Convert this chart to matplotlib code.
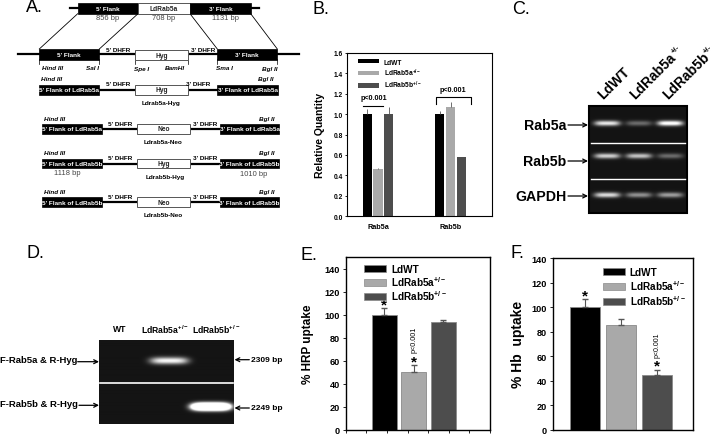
import matplotlib
matplotlib.use("Agg")
import matplotlib.pyplot as plt
from matplotlib.patches import Rectangle, Patch
import numpy as np

plt.rcParams["font.family"] = ["Liberation Sans", "DejaVu Sans"]
plt.rcParams["mathtext.default"] = "regular"

W, H = 713, 435

# panel B
qty_groups = ["Rab5a", "Rab5b"]
qty_wt = [1.0, 1.0]
qty_5a = [0.46, 1.07]
qty_5b = [1.005, 0.575]
qty_wt_err = [0.05, 0.035]
qty_5a_err = [0.01, 0.05]
qty_5b_err = [0.065, 0.005]
qty_ticks = [0.0, 0.2, 0.4, 0.6, 0.8, 1.0, 1.2, 1.4, 1.6]

# panel E and F
strains_hrp = ["LdWT", "LdRab5a$^{+/-}$", "LdRab5b$^{+/-}$"]
strains_hb = ["LdWT", "LdRab5a$^{+/-}$", "LdRab5b$^{+/-}$"]
hrp_vals = [100, 50.5, 94]
hrp_err = [6, 5.5, 1]
hb_vals = [100, 85.5, 44.5]
hb_err = [6.5, 4.5, 4.5]
uptake_ticks = [0, 20, 40, 60, 80, 100, 120, 140]

# gel band brightness, one row per primer set
gel_c_rows = ["Rab5a", "Rab5b", "GAPDH"]
gel_c_levels = [[0.85, 0.35, 1.0], [0.75, 0.7, 0.35], [0.8, 0.5, 0.55]]
gel_d_rows = ["F-Rab5a & R-Hyg", "F-Rab5b & R-Hyg"]
gel_d_sizes = ["2309 bp", "2249 bp"]
gel_d_levels = [[0.0, 0.9, 0.0], [0.0, 0.0, 3.0]]

colors = ["#000000", "#a9a9a9", "#4d4d4d"]


def px_axes(fig, left, top, right, bottom):
    return fig.add_axes([left / W, 1 - bottom / H, (right - left) / W, (bottom - top) / H])


def gel_image(left, top, right, bottom, row_y, lane_x, levels, half_w, half_h):
    xs, ys = np.meshgrid(np.arange(left, right, 0.5), np.arange(top, bottom, 0.5))
    img = np.full(xs.shape, 0.08)
    for r in range(len(row_y)):
        for c in range(len(lane_x)):
            img += (levels[r][c] * np.exp(-((xs - lane_x[c]) / half_w) ** 4)
                    * np.exp(-((ys - row_y[r]) / half_h) ** 2))
    return np.clip(img, 0, 1)


def arrow(ax, x0, x1, y):
    ax.annotate("", xy=(x1, y), xytext=(x0, y),
                arrowprops=dict(arrowstyle="->", color="k", lw=0.9,
                                mutation_scale=7, shrinkA=0, shrinkB=0))


fig = plt.figure(figsize=(W / 100, H / 100), dpi=100)

# ---- B
axb = px_axes(fig, 347, 54, 492, 217)
pos = np.arange(2)
axb.bar(pos - 0.149, qty_wt, 0.125, yerr=[[0, 0], qty_wt_err], color=colors[0],
        ecolor="#555555", error_kw=dict(lw=0.6), label="LdWT")
axb.bar(pos, qty_5a, 0.125, yerr=[[0, 0], qty_5a_err], color=colors[1],
        ecolor="#555555", error_kw=dict(lw=0.6), label="LdRab5a$^{+/-}$")
axb.bar(pos + 0.149, qty_5b, 0.125, yerr=[[0, 0], qty_5b_err], color=colors[2],
        ecolor="#555555", error_kw=dict(lw=0.6), label="LdRab5b$^{+/-}$")
axb.set_xlim(-0.428, 1.572)
axb.set_ylim(0, 1.6)
axb.set_yticks(qty_ticks)
axb.set_yticklabels(["%.1f" % t for t in qty_ticks], fontsize=4.8, fontweight="bold")
axb.set_xticks(pos)
axb.set_xticklabels(qty_groups, fontsize=5.2, fontweight="bold")
axb.tick_params(length=1.5, width=0.6, pad=1.5)
axb.tick_params(axis="x", length=0, pad=5)
axb.set_ylabel("Relative Quantity", fontsize=7.5, fontweight="bold")
axb.yaxis.set_label_coords(-0.152, 0.5)
for s in axb.spines.values():
    s.set_linewidth(0.8)
axb.legend(loc="upper left", bbox_to_anchor=(0.075, 0.965), frameon=False, borderaxespad=0,
           borderpad=0, prop=dict(size=4.8, weight="bold"), handlelength=3.2, handleheight=0.6,
           handletextpad=0.7, labelspacing=0.15)

# ---- E
axe = px_axes(fig, 345.7, 258, 490, 431)
pos = np.arange(3)
axe.bar(pos, hrp_vals, 0.85, yerr=[[0, 0, 0], hrp_err], color=colors,
        edgecolor="#8a8a8a", lw=0.6, ecolor="#555555", error_kw=dict(lw=0.8, capsize=2))
axe.set_xlim(-1.3, 3.59)
axe.set_ylim(0, 150)
axe.set_yticks(uptake_ticks)
axe.set_yticklabels(uptake_ticks, fontsize=6.6, fontweight="bold")
axe.set_xticks(np.linspace(-1.3, 3.59, 8))
axe.set_xticklabels([])
axe.tick_params(length=2, width=0.6, pad=2)
axe.set_ylabel("% HRP uptake", fontsize=8.5, fontweight="bold")
axe.yaxis.set_label_coords(-0.22, 0.5)
axe.text(0, hrp_vals[0] + hrp_err[0] + 3, "*", fontsize=11, fontweight="bold", ha="center", va="center")
axe.text(1, hrp_vals[1] + hrp_err[1] + 3, "*", fontsize=11, fontweight="bold", ha="center", va="center")
axe.text(1, 79, "p<0.001", fontsize=5.2, rotation=90, ha="center", va="center")
axe.legend([Patch(facecolor=c, edgecolor="#8a8a8a", lw=0.5) for c in colors], strains_hrp,
           loc="upper left", bbox_to_anchor=(0.13, 0.96), frameon=False, borderaxespad=0,
           borderpad=0, prop=dict(size=7.2, weight="bold"), handlelength=2.2, handleheight=0.7,
           handletextpad=0.45, labelspacing=0.02)
for s in axe.spines.values():
    s.set_linewidth(1)

# ---- F
axf = px_axes(fig, 552.7, 259.3, 693, 430.5)
axf.bar(pos, hb_vals, 0.83, yerr=[[0, 0, 0], hb_err], color=colors,
        edgecolor="#8a8a8a", lw=0.6, ecolor="#555555", error_kw=dict(lw=0.8, capsize=2))
axf.set_xlim(-0.9, 3.0)
axf.set_ylim(0, 140)
axf.set_yticks(uptake_ticks)
axf.set_yticklabels(uptake_ticks, fontsize=6.6, fontweight="bold")
axf.set_xticks([])
axf.tick_params(length=2, width=0.6, pad=2)
axf.set_ylabel("% Hb  uptake", fontsize=10, fontweight="bold")
axf.yaxis.set_label_coords(-0.197, 0.5)
axf.text(0, hb_vals[0] + hb_err[0] + 3, "*", fontsize=11, fontweight="bold", ha="center", va="center")
axf.text(2, hb_vals[2] + hb_err[2] + 3, "*", fontsize=11, fontweight="bold", ha="center", va="center")
axf.text(2, 70, "p<0.001", fontsize=5, rotation=90, ha="center", va="center")
axf.legend([Patch(facecolor=c, edgecolor="#8a8a8a", lw=0.5) for c in colors], strains_hb,
           loc="upper left", bbox_to_anchor=(0.36, 0.95), frameon=False, borderaxespad=0,
           borderpad=0, prop=dict(size=7.2, weight="bold"), handlelength=2.2, handleheight=0.7,
           handletextpad=0.45, labelspacing=0.15)
for s in axf.spines.values():
    s.set_linewidth(1)

# ---- overlay in pixel coordinates for schematic and gels
ov = fig.add_axes([0, 0, 1, 1], facecolor="none", zorder=5)

for letter, x, y in [("A.", 26, 8), ("B.", 313, 9), ("C.", 512, 9),
                     ("D.", 26, 254), ("E.", 301, 255), ("F.", 511, 254)]:
    ov.text(x, y, letter, fontsize=13, ha="left", va="center")


def black_box(x0, x1, y0, y1, label):
    ov.add_patch(Rectangle((x0, y0), x1 - x0, y1 - y0, fc="k", ec="k", lw=0.5, zorder=3))
    ov.text((x0 + x1) / 2, (y0 + y1) / 2, label, color="w", fontsize=4.6, fontweight="bold",
            ha="center", va="center", zorder=4)


def white_box(x0, x1, y0, y1, label):
    ov.add_patch(Rectangle((x0, y0), x1 - x0, y1 - y0, fc="w", ec="#555555", lw=0.7, zorder=3))
    ov.text((x0 + x1) / 2, (y0 + y1) / 2, label, color="#222222", fontsize=4.8, fontweight="bold",
            ha="center", va="center", zorder=4)


def small(x, y, s, **kw):
    ov.text(x, y, s, fontsize=4.6, fontweight="bold", ha="center", va="center", **kw)


def bp(x, y, s):
    ov.text(x, y, s, fontsize=5.4, color="#444444", ha="center", va="center")


# top locus
ov.plot([70, 259], [9, 9], color="k", lw=1.6)
black_box(77.7, 138, 4.3, 14.7, "5' Flank")
white_box(138, 190, 4.3, 14.7, "LdRab5a")
black_box(190, 250.7, 4.3, 14.7, "3' Flank")
bp(107.5, 18, "856 bp")
bp(164, 18, "708 bp")
bp(225, 18, "1131 bp")
for x0, x1 in [(77.7, 39.3), (138, 99.3), (190, 217.3), (250.7, 277.3)]:
    ov.plot([x0, x1], [14.7, 50], color="k", lw=0.6)

# plasmid row
ov.plot([18, 299], [55, 55], color="k", lw=1.6)
black_box(39.3, 99.3, 50, 60.5, "5' Flank")
white_box(135.3, 187.7, 51, 61, "Hyg")
black_box(217.3, 277.3, 50, 60.5, "3' Flank")
small(118, 50, "5' DHFR")
small(202.7, 50, "3' DHFR")
for x in [39.3, 99.3, 135.3, 187.7, 217.3, 277.3]:
    ov.plot([x, x], [60, 65], color="k", lw=0.5)
for s, x in [("Hind III", 53), ("Sal I", 93), ("Spe I", 141.7), ("BamHI", 175),
             ("Sma I", 224), ("Bgl II", 270)]:
    small(x, 69, s, style="italic")


def construct(y0, y1, x, white, name, name_y, lab_y, dhfr_y, flank5, flank3, dx1, dx2, nx):
    ym = (y0 + y1) / 2
    ov.plot([x[1], x[4]], [ym, ym], color="k", lw=1.6)
    black_box(x[0], x[1], y0, y1, flank5)
    white_box(x[2], x[3], y0, y1, white)
    black_box(x[4], x[5], y0, y1, flank3)
    small(x[0] + 12.5, lab_y, "Hind III", style="italic")
    small(x[5] - 13, lab_y, "Bgl II", style="italic")
    small(dx1, dhfr_y, "5' DHFR")
    small(dx2, dhfr_y, "3' DHFR")
    small(nx, name_y, name)


x1 = [38.7, 99.3, 135.3, 187.7, 216.7, 278.3]
x2 = [41.7, 101.7, 137.3, 190, 220, 279.3]
construct(86, 95.7, x1, "Hyg", "Ldrab5a-Hyg", 103.7, 79.7, 85, "5' Flank of LdRab5a", "3' Flank of LdRab5a", 117.7, 197.7, 160.7)
construct(124.7, 134.7, x2, "Neo", "Ldrab5a-Neo", 142.7, 119.3, 124, "5' Flank of LdRab5a", "3' Flank of LdRab5a", 120, 205, 163.3)
construct(160, 169.3, x2, "Hyg", "Ldrab5b-Hyg", 177.3, 153.3, 158.7, "5' Flank of LdRab5b", "3' Flank of LdRab5b", 120, 205, 164.7)
construct(198.3, 208.3, x2, "Neo", "Ldrab5b-Neo", 216, 192.7, 197.7, "5' Flank of LdRab5b", "3' Flank of LdRab5b", 120, 205, 162.7)
bp(67.3, 173.7, "1118 bp")
bp(253.3, 174.3, "1010 bp")

# panel B brackets
ov.text(374, 98.7, "p<0.001", fontsize=5.2, fontweight="bold", ha="center", va="center")
ov.plot([362.7, 383], [106.7, 106.7], color="k", lw=0.8)
ov.text(453.3, 90.7, "p<0.001", fontsize=5.2, fontweight="bold", ha="center", va="center")
ov.plot([436.3, 436.3, 471.3, 471.3], [105, 98.3, 98.3, 105], color="k", lw=0.8)

# gel C
c_box = (589, 107, 687, 214)
ov.imshow(gel_image(*c_box, [124, 156.7, 195.7], [607, 638.7, 670], gel_c_levels, 13, 2.6),
          cmap="gray", vmin=0, vmax=1, extent=[c_box[0], c_box[2], c_box[3], c_box[1]],
          aspect="auto", interpolation="bilinear")
ov.add_patch(Rectangle((c_box[0], c_box[1]), c_box[2] - c_box[0], c_box[3] - c_box[1],
                       fc="none", ec="k", lw=1.5))
for y in [143.7, 179.7]:
    ov.plot([591, 685], [y, y], color="w", lw=1)
for s, y in zip(gel_c_rows, [126, 162, 197]):
    ov.text(566.7, y, s, fontsize=10.2, fontweight="bold", ha="right", va="center")
    arrow(ov, 568, 588, y)
# lane labels, superscript set apart because the original has a very small one
for s, x, y in [("LdWT", 600, 96.7), ("LdRab5a", 632.7, 96.7), ("LdRab5b", 665, 96.7)]:
    ov.text(x, y, s, fontsize=10, fontweight="bold", rotation=45, ha="left", va="center",
            rotation_mode="anchor")
for x, y in [(676, 50), (708, 50)]:
    ov.text(x, y, "+/-", fontsize=5.5, fontweight="bold", rotation=45, ha="center", va="center")

# gel D
d_box = (99, 341.7, 234, 425)
ov.imshow(gel_image(*d_box, [362, 407.7], [127, 169, 210.7], gel_d_levels, 19, 3.5),
          cmap="gray", vmin=0, vmax=1, extent=[d_box[0], d_box[2], d_box[3], d_box[1]],
          aspect="auto", interpolation="bilinear")
ov.plot([100, 233], [383.7, 383.7], color="w", lw=1.2)
for s, x in [("WT", 120), ("LdRab5a$^{+/-}$", 165), ("LdRab5b$^{+/-}$", 216.7)]:
    ov.text(x, 330, s, fontsize=6.2, fontweight="bold", ha="center", va="center")
for s, y, x0 in zip(gel_d_rows, [360.7, 404.3], [77.7, 79]):
    ov.text(0.5, y, s, fontsize=6.8, fontweight="bold", ha="left", va="center")
    arrow(ov, x0, 99, y + 2)
for s, y in zip(gel_d_sizes, [360.7, 409]):
    ov.text(250.7, y, s, fontsize=6, fontweight="bold", ha="left", va="center")
    arrow(ov, 249.3, 234.5, y)

ov.set_xlim(0, W)
ov.set_ylim(H, 0)
ov.axis("off")

fig.savefig("out.png", dpi=100)
